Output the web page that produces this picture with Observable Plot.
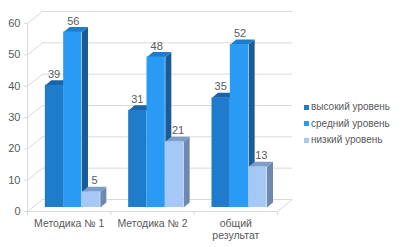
<!DOCTYPE html>
<html><head><meta charset="utf-8">
<script src="https://cdn.jsdelivr.net/npm/d3@7"></script>
<script src="https://cdn.jsdelivr.net/npm/@observablehq/plot@0.6"></script>
<style>
body{margin:0;background:#fff;font-family:"Liberation Sans",Arial,sans-serif;}
#wrap{position:relative;width:404px;height:247px;}
#legend{position:absolute;left:304px;top:99px;font-size:10px;color:#595959;line-height:16.5px;}
#legend .row{display:flex;align-items:center;white-space:nowrap;}
#legend .sw{width:5px;height:5px;margin-right:2px;}
</style></head><body><div id="wrap"><div id="legend"></div></div>
<script>
const categories = ["Методика № 1", "Методика № 2", "общий\nрезультат"];
const seriesNames = ["высокий уровень", "средний уровень", "низкий уровень"];
const high = [39, 31, 35];
const mid = [56, 48, 52];
const low = [5, 21, 13];
const yTicks = [0, 10, 20, 30, 40, 50, 60];

// styles
const frontColors = ["#1f7bcb", "#2a9bf4", "#a6c8f6"];
const topColors = ["#1b64a8", "#1f7ccc", "#7f9dc9"];
const sideColors = ["#175894", "#1b5c98", "#6d89b0"];
const labelDx = [4, 5, 8];

const W = 404, H = 247, ml = 27, mr = 127, mt = 23, mb = 36;
const slotPx = (W - ml - mr) / categories.length;
const unitPx = (H - mt - mb) / 60;
const wallX = 15 / slotPx, wallY = 12 / unitPx;   // back-wall depth (data units)
const barDX = 4.5, barDY = -4;                    // bar plane offset (px)
const dX = 6 / slotPx, dY = 5 / unitPx;           // bar depth (data units)
const pad = 0.16, bw = 0.22;

const seriesVals = [high, mid, low];
const bars = [];
seriesVals.forEach((vals, j) => vals.forEach((v, i) => {
  const x1 = i + pad + j * bw, x2 = x1 + bw;
  bars.push({i, j, v, x1, x2});
}));
const tops = [], sides = [];
bars.forEach((b, k) => {
  [[b.x1, b.v], [b.x2, b.v], [b.x2 + dX, b.v + dY], [b.x1 + dX, b.v + dY]]
    .forEach(([x, y]) => tops.push({k, j: b.j, x, y}));
  [[b.x2, 0], [b.x2 + dX, dY], [b.x2 + dX, b.v + dY], [b.x2, b.v]]
    .forEach(([x, y]) => sides.push({k, j: b.j, x, y}));
});

const grid = "#d9d9d9", txt = "#595959";
const labelMarks = seriesVals.map((_, j) =>
  Plot.text(bars.filter(b => b.j === j), {
    x: d => (d.x1 + d.x2) / 2, y: "v", text: d => String(d.v),
    dx: labelDx[j], dy: -15, fill: txt, fontSize: 11
  }));
const chart = Plot.plot({
  width: W, height: H, marginLeft: ml, marginRight: mr, marginTop: mt, marginBottom: mb,
  x: {type: "linear", domain: [0, categories.length], axis: null},
  y: {domain: [0, 60], axis: null},
  style: {fontFamily: "'Liberation Sans', Arial, sans-serif", overflow: "visible"},
  marks: [
    // back wall gridlines
    Plot.ruleY(yTicks, {dx: 15, dy: -12, stroke: grid}),
    Plot.link(yTicks, {x1: 0, y1: d => d, x2: wallX, y2: d => d + wallY, stroke: grid}),
    Plot.link([0], {x1: categories.length, y1: 0, x2: categories.length + wallX, y2: wallY, stroke: grid}),
    Plot.ruleY([0], {stroke: grid}),
    Plot.ruleX([0], {y1: 0, y2: 60, stroke: grid}),
    Plot.ruleY(yTicks, {x1: -3 / slotPx, x2: 0, stroke: grid}),
    Plot.ruleX(d3.range(categories.length + 1), {y1: 0, y2: -4 / unitPx, stroke: grid}),
    // bars
    Plot.line(sides, {x: "x", y: "y", z: "k", fill: d => sideColors[d.j], stroke: "none", curve: "linear-closed", dx: barDX, dy: barDY}),
    Plot.line(tops, {x: "x", y: "y", z: "k", fill: d => topColors[d.j], stroke: "none", curve: "linear-closed", dx: barDX, dy: barDY}),
    Plot.rectY(bars, {x1: "x1", x2: "x2", y1: 0, y2: "v", fill: d => frontColors[d.j], dx: barDX, dy: barDY}),
    // value labels
    ...labelMarks,
    // y tick labels
    Plot.text(yTicks, {x: 0, y: d => d, text: d => String(d), textAnchor: "end", dx: -7, fill: txt, fontSize: 11}),
    // category labels
    Plot.text(categories, {x: (d, i) => i + 0.5, y: 0, text: d => d, lineAnchor: "top", dy: 7, fill: txt, fontSize: 10.5, lineHeight: 1.15})
  ]
});
document.getElementById("wrap").prepend(chart);
const lg = document.getElementById("legend");
seriesNames.forEach((n, j) => {
  const r = document.createElement("div"); r.className = "row";
  const s = document.createElement("span"); s.className = "sw"; s.style.background = frontColors[j];
  r.appendChild(s); r.appendChild(document.createTextNode(n)); lg.appendChild(r);
});
</script></body></html>
